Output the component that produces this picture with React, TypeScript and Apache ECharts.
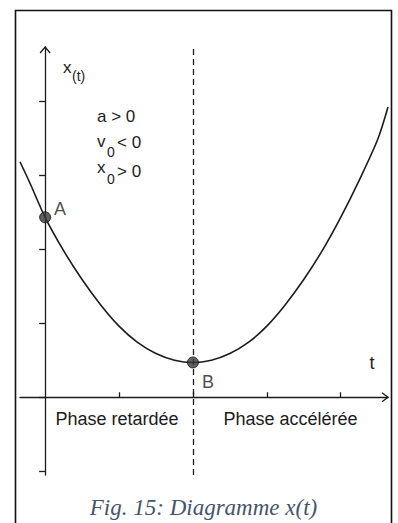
import React, { useEffect, useRef } from "react";
import * as echarts from "echarts";

// time values (t) and positions x(t)
const T_VALUES = [-0.34, -0.2, 0, 0.25, 0.5, 0.75, 1, 1.25, 1.5, 1.75, 2, 2.25, 2.5, 2.75, 3, 3.25, 3.5, 3.75, 4, 4.25, 4.5, 4.64];
const X_VALUES = [3.18, 2.88, 2.43, 1.98, 1.59, 1.25, 0.96, 0.74, 0.59, 0.5, 0.47, 0.5, 0.59, 0.74, 0.96, 1.25, 1.59, 1.98, 2.43, 2.93, 3.48, 3.92];

const POINT_NAMES = ["A", "B"];
const POINT_T = [0, 2];
const POINT_X = [2.43, 0.47];

const T_SPLIT = 2;
const X_TICKS = [1, 2, 3, 4];
const Y_TICKS = [-1, 0, 1, 2, 3, 4];
const T_RANGE = [-0.34, 4.64];
const X_RANGE = [-1.05, 4.73];

const PHASE_LABELS = ["Phase retardée", "Phase accélérée"];
const CONDITIONS = [
  { main: "a", sub: "", rest: "a > 0" },
  { main: "v", sub: "0", rest: "< 0" },
  { main: "x", sub: "0", rest: "> 0" },
];
const CAPTION = "Fig. 15: Diagramme x(t)";

const SANS = '"Liberation Sans", Arial, sans-serif';
const INK = "#1c1c1c";

export default function App() {
  const ref = useRef<HTMLDivElement>(null);

  useEffect(() => {
    if (!ref.current) return;
    const chart = echarts.init(ref.current, undefined, { renderer: "svg" });
    const axisLine = { onZero: true, lineStyle: { color: INK, width: 1.3 } };
    chart.setOption({
      animation: false,
      backgroundColor: "#ffffff",
      grid: { left: 20, right: 10, top: 47, bottom: 48 },
      xAxis: {
        type: "value",
        min: T_RANGE[0],
        max: T_RANGE[1],
        axisLine,
        axisTick: { show: true, inside: true, length: 5, customValues: X_TICKS, lineStyle: { color: INK, width: 1.3 } },
        axisLabel: { show: false },
        splitLine: { show: false },
      },
      yAxis: {
        type: "value",
        min: X_RANGE[0],
        max: X_RANGE[1],
        axisLine,
        axisTick: { show: true, inside: false, length: 6, customValues: Y_TICKS, lineStyle: { color: INK, width: 1.3 } },
        axisLabel: { show: false },
        splitLine: { show: false },
      },
      series: [
        {
          type: "line",
          data: T_VALUES.map((t, i) => [t, X_VALUES[i]]),
          showSymbol: false,
          smooth: 0.3,
          lineStyle: { color: INK, width: 1.6 },
          markLine: {
            silent: true,
            symbol: ["none", "none"],
            label: { show: false },
            lineStyle: { type: [6, 4], color: INK, width: 1.3 },
            data: [{ xAxis: T_SPLIT }],
          },
          z: 3,
        },
        {
          type: "scatter",
          symbol: "circle",
          symbolSize: 11,
          itemStyle: { color: "#3a3a3a", borderColor: "#111", borderWidth: 1 },
          z: 5,
          data: POINT_NAMES.map((n, i) => ({
            name: n,
            value: [POINT_T[i], POINT_X[i]],
            label:
              i === 0
                ? { show: true, formatter: n, position: "right", distance: 3, offset: [0, -8], fontSize: 18, fontFamily: SANS, color: INK }
                : { show: true, formatter: n, position: "bottom", distance: 5, offset: [15, 0], fontSize: 18, fontFamily: SANS, color: INK },
          })),
        },
      ],
    });

    const yTip = chart.convertToPixel({ gridIndex: 0 }, [0, X_RANGE[1]]) as number[];
    const xTip = chart.convertToPixel({ gridIndex: 0 }, [T_RANGE[1], 0]) as number[];
    const split = chart.convertToPixel({ gridIndex: 0 }, [T_SPLIT, 0]) as number[];
    const origin = chart.convertToPixel({ gridIndex: 0 }, [0, 0]) as number[];

    const txt = (text: string, x: number, y: number, size: number, align = "left", extra: any = {}) => ({
      type: "text",
      x,
      y,
      silent: true,
      style: { text, fontSize: size, fontFamily: SANS, fill: INK, align, verticalAlign: "middle", ...extra },
    });

    const graphic: any[] = [
      {
        type: "rect",
        silent: true,
        shape: { x: 15.5, y: 10.5, width: 376, height: 560 },
        style: { fill: "none", stroke: "#111", lineWidth: 1.6 },
      },
      {
        type: "polyline",
        silent: true,
        shape: { points: [[yTip[0] - 5, yTip[1] + 6], [yTip[0], yTip[1]], [yTip[0] + 5, yTip[1] + 6]] },
        style: { fill: "none", stroke: INK, lineWidth: 1.3 },
      },
      {
        type: "polyline",
        silent: true,
        shape: { points: [[xTip[0] - 6, xTip[1] - 4.5], [xTip[0], xTip[1]], [xTip[0] - 6, xTip[1] + 4.5]] },
        style: { fill: "none", stroke: INK, lineWidth: 1.3 },
      },
      // axis names
      txt("x", 63, 67, 17),
      txt("(t)", 72, 76, 14),
      txt("t", xTip[0] - 16, xTip[1] - 34, 18, "center"),
      // conditions
      txt(CONDITIONS[0].rest, 97, 116, 17),
      txt(CONDITIONS[1].main, 97, 141, 17),
      txt(CONDITIONS[1].sub, 107, 152, 14),
      txt(CONDITIONS[1].rest, 117, 142, 17),
      txt(CONDITIONS[2].main, 97, 167, 17),
      txt(CONDITIONS[2].sub, 107, 179, 14),
      txt(CONDITIONS[2].rest, 117, 171, 17),
      // phases
      txt(PHASE_LABELS[0], (origin[0] + split[0]) / 2 - 2, origin[1] + 22, 18, "center"),
      txt(PHASE_LABELS[1], (split[0] + xTip[0]) / 2, origin[1] + 22, 18, "center"),
      // caption
      {
        type: "text",
        x: 203.5,
        y: 507,
        silent: true,
        style: {
          text: CAPTION,
          fontSize: 23,
          fontStyle: "italic",
          fontFamily: '"Liberation Serif", "Times New Roman", serif',
          fill: "#44546A",
          align: "center",
          verticalAlign: "middle",
        },
      },
    ];
    chart.setOption({ graphic });

    return () => chart.dispose();
  }, []);

  return (
    <div
      ref={ref}
      style={{ position: "absolute", left: 0, top: 0, width: 398, height: 523, background: "#fff" }}
    />
  );
}
